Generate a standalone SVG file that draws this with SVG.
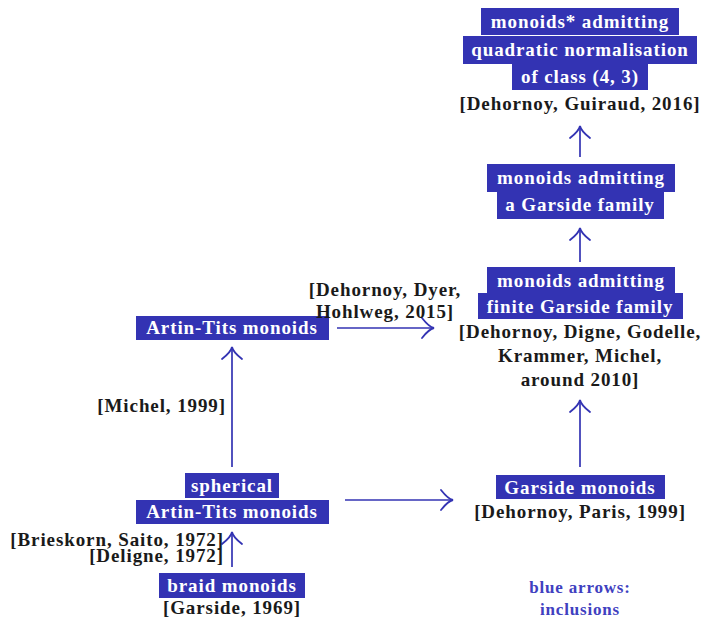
<svg xmlns="http://www.w3.org/2000/svg" width="710" height="619" viewBox="0 0 710 619">
<style>
.bx{fill:#3333b3}
.nt{font-family:"Liberation Serif","Times New Roman",serif;font-weight:bold;font-size:19px;letter-spacing:0.9px;fill:#ffffff;text-anchor:middle}
.ct{font-family:"Liberation Serif","Times New Roman",serif;font-weight:bold;font-size:19px;letter-spacing:0.9px;fill:#1a1a1a;text-anchor:middle}
.ce{text-anchor:end}
.bl{font-family:"Liberation Serif","Times New Roman",serif;font-weight:bold;font-size:17px;letter-spacing:0.8px;fill:#4040c0;text-anchor:middle}
.ed{stroke:#3333b3;stroke-width:1.7;fill:none;marker-end:url(#ah)}
</style>
<defs>
<marker id="ah" markerUnits="userSpaceOnUse" markerWidth="30" markerHeight="30" refX="0" refY="0" orient="auto" overflow="visible">
<path d="M-12,-10 Q-5,-1 0,0 Q-5,1 -12,10" fill="none" stroke="#3333b3" stroke-width="1.8" stroke-linecap="round"/>
</marker>
</defs>
<rect width="710" height="619" fill="#ffffff"/>
<g id="connectors">
<line class="ed" x1="580" y1="157" x2="580" y2="126"/>
<line class="ed" x1="580" y1="262" x2="580" y2="228"/>
<line class="ed" x1="580" y1="467" x2="580" y2="400"/>
<line class="ed" x1="232" y1="467" x2="232" y2="347"/>
<line class="ed" x1="232" y1="567" x2="232" y2="532"/>
<line class="ed" x1="337" y1="328" x2="434" y2="328"/>
<line class="ed" x1="345" y1="500" x2="453" y2="500"/>
</g>
<g id="quadratic">
<rect class="bx" x="481" y="8" width="198" height="27"/>
<rect class="bx" x="463" y="36" width="234" height="28"/>
<rect class="bx" x="512" y="63" width="136" height="27"/>
<text class="nt" x="580" y="28">monoids* admitting</text>
<text class="nt" x="580" y="56">quadratic normalisation</text>
<text class="nt" x="580" y="83">of class (4, 3)</text>
<text class="ct" x="580" y="110">[Dehornoy, Guiraud, 2016]</text>
</g>
<g id="garside-family">
<rect class="bx" x="487" y="164" width="188" height="28"/>
<rect class="bx" x="497" y="191" width="167" height="28"/>
<text class="nt" x="581" y="184">monoids admitting</text>
<text class="nt" x="580" y="211">a Garside family</text>
</g>
<g id="finite-garside-family">
<rect class="bx" x="487" y="267" width="188" height="27"/>
<rect class="bx" x="478" y="293" width="205" height="26"/>
<text class="nt" x="581" y="287">monoids admitting</text>
<text class="nt" x="580" y="313">finite Garside family</text>
<text class="ct" x="580" y="338">[Dehornoy, Digne, Godelle,</text>
<text class="ct" x="580" y="362">Krammer, Michel,</text>
<text class="ct" x="580" y="386">around 2010]</text>
</g>
<g id="garside-monoids">
<rect class="bx" x="496" y="475" width="169" height="24"/>
<text class="nt" x="580" y="494">Garside monoids</text>
<text class="ct" x="580" y="518">[Dehornoy, Paris, 1999]</text>
</g>
<g id="artin-tits">
<rect class="bx" x="136" y="316" width="193" height="24"/>
<text class="nt" x="232" y="334">Artin-Tits monoids</text>
</g>
<g id="spherical">
<rect class="bx" x="185" y="473" width="94" height="25"/>
<rect class="bx" x="136" y="500" width="193" height="24"/>
<text class="nt" x="232" y="492">spherical</text>
<text class="nt" x="232" y="518">Artin-Tits monoids</text>
</g>
<g id="braid">
<rect class="bx" x="159" y="573" width="146" height="25"/>
<text class="nt" x="232" y="592">braid monoids</text>
<text class="ct" x="232" y="614">[Garside, 1969]</text>
</g>
<g id="labels">
<text class="ct" x="385" y="296">[Dehornoy, Dyer,</text>
<text class="ct" x="385" y="318">Hohlweg, 2015]</text>
<text class="ct ce" x="226" y="412">[Michel, 1999]</text>
<text class="ct ce" x="224" y="546">[Brieskorn, Saito, 1972]</text>
<text class="ct ce" x="224" y="562">[Deligne, 1972]</text>
</g>
<g id="legend">
<text class="bl" x="580" y="593">blue arrows:</text>
<text class="bl" x="580" y="615">inclusions</text>
</g>
</svg>
